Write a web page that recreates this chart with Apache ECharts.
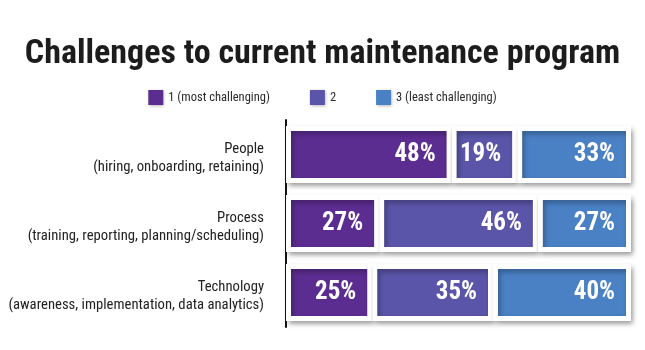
<!DOCTYPE html>
<html>
<head>
<meta charset="utf-8">
<script src="https://cdn.jsdelivr.net/npm/echarts@6/dist/echarts.min.js"></script>
<style>
  html, body { margin: 0; padding: 0; background: #fff; }
  #chart { width: 645px; height: 350px; }
</style>
</head>
<body>
<div id="chart"></div>
<script>
// Survey results: share of respondents ranking each area 1, 2 or 3
const categories = ['People', 'Process', 'Technology'];
const subtitles = [
  '(hiring, onboarding, retaining)',
  '(training, reporting, planning/scheduling)',
  '(awareness, implementation, data analytics)'
];
const seriesNames = ['1 (most challenging)', '2', '3 (least challenging)'];
const rank1 = [48, 27, 25];
const rank2 = [19, 46, 35];
const rank3 = [33, 27, 40];
const colors = ['#5c2d91', '#5a55a8', '#4a80c4'];

const FONT = "'Roboto Condensed', 'DejaVu Sans Condensed', 'Liberation Sans Narrow', 'Noto Sans', sans-serif";

const chart = echarts.init(document.getElementById('chart'), null, { renderer: 'canvas' });

function makeSeries(name, values, color) {
  return {
    name: name,
    type: 'bar',
    stack: 'total',
    barWidth: 57,
    data: values,
    itemStyle: {
      color: color,
      borderColor: '#ffffff',
      borderWidth: 5,
      shadowColor: 'rgba(0,0,0,0.3)',
      shadowBlur: 5,
      shadowOffsetX: 2,
      shadowOffsetY: 3
    },
    label: {
      show: true,
      position: 'insideRight',
      distance: 16,
      formatter: '{c}%',
      color: '#ffffff',
      fontFamily: FONT,
      fontWeight: 'bold',
      fontSize: 25
    },
    emphasis: { disabled: true }
  };
}

chart.setOption({
  animation: false,
  backgroundColor: '#ffffff',
  title: {
    text: 'Challenges to current maintenance program',
    left: 'center',
    top: 32,
    textStyle: {
      fontFamily: FONT,
      fontWeight: 'bold',
      fontSize: 34,
      color: '#1c1c1c'
    }
  },
  legend: {
    top: 85,
    left: 'center',
    itemWidth: 15,
    itemHeight: 15,
    itemGap: 40,
    icon: 'rect',
    data: seriesNames,
    itemStyle: {
      borderWidth: 0,
      shadowColor: 'rgba(0,0,0,0.3)',
      shadowBlur: 3,
      shadowOffsetX: 1,
      shadowOffsetY: 1
    },
    textStyle: {
      fontFamily: FONT,
      fontSize: 12.5,
      color: '#2a2a2a'
    }
  },
  grid: {
    left: 286,
    top: 120,
    width: 345,
    height: 207,
    containLabel: false,
    outerBoundsMode: 'none'
  },
  xAxis: {
    type: 'value',
    min: 0,
    max: 100,
    show: false
  },
  yAxis: {
    type: 'category',
    data: categories,
    inverse: true,
    offset: 6,
    axisLine: { show: true, lineStyle: { color: '#111', width: 2 } },
    axisTick: { show: false },
    axisLabel: {
      margin: 16,
      align: 'right',
      padding: [8, 0, 0, 0],
      formatter: function (value, idx) {
        return '{a|' + value + '}\n{a|' + subtitles[idx] + '}';
      },
      rich: {
        a: {
          fontFamily: FONT,
          fontSize: 14.7,
          lineHeight: 18,
          color: '#222',
          align: 'right'
        }
      }
    }
  },
  series: [
    makeSeries(seriesNames[0], rank1, colors[0]),
    makeSeries(seriesNames[1], rank2, colors[1]),
    makeSeries(seriesNames[2], rank3, colors[2])
  ]
});
</script>
</body>
</html>
